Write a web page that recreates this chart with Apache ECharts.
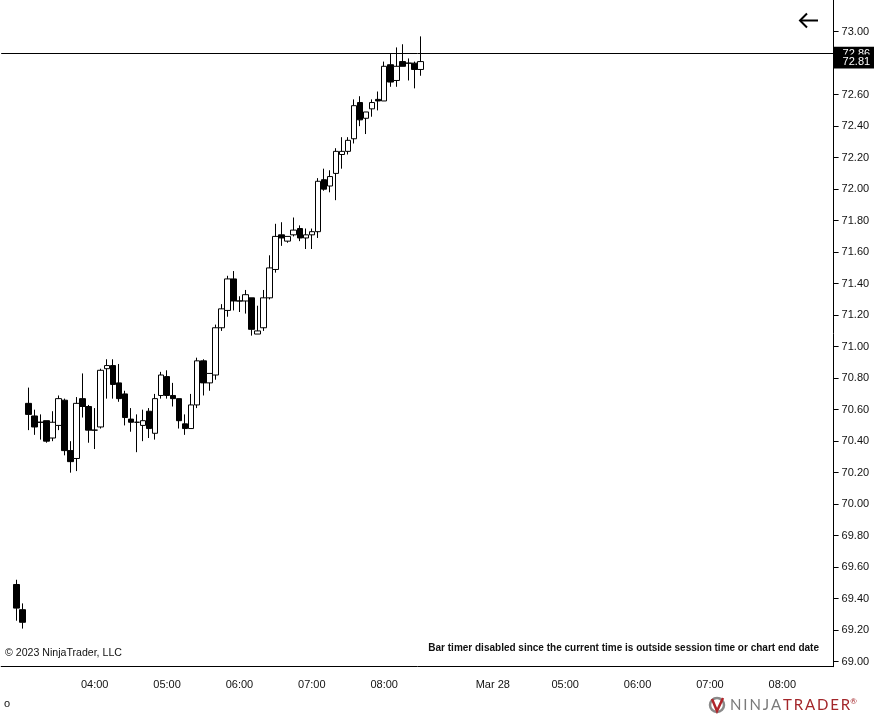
<!DOCTYPE html>
<html>
<head>
<meta charset="utf-8">
<title>Crude 5 min</title>
<script src="https://cdn.jsdelivr.net/npm/echarts@6/dist/echarts.min.js"></script>
<style>
  html, body { margin: 0; padding: 0; background: #fff; }
  #chart { width: 874px; height: 714px; }
</style>
</head>
<body>
<div id="chart"></div>
<script>
// 5 minute bars
const opens = [69.49, 69.33, 70.64, 70.56, 70.52, 70.53, 70.42, 70.50, 70.66, 70.34,
  70.29, 70.67, 70.62, 70.47, 70.49, 70.86, 70.88, 70.77, 70.70, 70.54,
  70.52, 70.50, 70.59, 70.45, 70.69, 70.81, 70.69, 70.67, 70.51, 70.48,
  70.63, 70.91, 70.77, 70.82, 71.12, 71.23, 71.43, 71.29, 71.29, 71.31,
  71.08, 71.12, 71.31, 71.49, 71.71, 71.67, 71.71, 71.75, 71.69, 71.71,
  71.73, 72.06, 72.02, 72.10, 72.22, 72.24, 72.32, 72.55, 72.45, 72.51,
  72.57, 72.56, 72.79, 72.69, 72.81, 72.80, 72.80, 72.76];
const highs = [69.52, 69.37, 70.74, 70.60, 70.57, 70.53, 70.59, 70.69, 70.67, 70.40,
  70.68, 70.83, 70.63, 70.61, 70.86, 70.92, 70.92, 70.89, 70.72, 70.61,
  70.57, 70.60, 70.61, 70.70, 70.84, 70.85, 70.77, 70.67, 70.57, 70.70,
  70.93, 70.92, 70.83, 71.14, 71.27, 71.45, 71.48, 71.32, 71.36, 71.31,
  71.26, 71.36, 71.58, 71.78, 71.79, 71.70, 71.82, 71.77, 71.75, 71.75,
  72.07, 72.13, 72.12, 72.26, 72.33, 72.33, 72.57, 72.59, 72.49, 72.57,
  72.62, 72.81, 72.86, 72.90, 72.92, 72.83, 72.81, 72.97];
const lows = [69.26, 69.21, 70.47, 70.44, 70.41, 70.39, 70.40, 70.47, 70.31, 70.20,
  70.21, 70.55, 70.39, 70.35, 70.48, 70.67, 70.67, 70.65, 70.50, 70.46,
  70.33, 70.40, 70.42, 70.41, 70.67, 70.67, 70.62, 70.48, 70.44, 70.48,
  70.61, 70.69, 70.72, 70.79, 71.10, 71.19, 71.23, 71.22, 71.21, 71.07,
  71.08, 71.10, 71.30, 71.47, 71.64, 71.66, 71.70, 71.67, 71.62, 71.62,
  71.69, 71.99, 71.98, 71.93, 72.13, 72.22, 72.29, 72.40, 72.35, 72.46,
  72.50, 72.56, 72.65, 72.65, 72.78, 72.69, 72.64, 72.72];
const closes = [69.34, 69.25, 70.57, 70.49, 70.52, 70.40, 70.52, 70.67, 70.34, 70.27,
  70.64, 70.62, 70.47, 70.47, 70.85, 70.88, 70.76, 70.67, 70.55, 70.52,
  70.52, 70.53, 70.48, 70.67, 70.82, 70.69, 70.67, 70.53, 70.48, 70.63,
  70.91, 70.77, 70.83, 71.12, 71.24, 71.43, 71.29, 71.29, 71.33, 71.11,
  71.10, 71.31, 71.50, 71.70, 71.69, 71.70, 71.74, 71.69, 71.71, 71.73,
  72.05, 72.00, 72.08, 72.24, 72.24, 72.31, 72.53, 72.44, 72.49, 72.55,
  72.56, 72.78, 72.68, 72.78, 72.78, 72.80, 72.76, 72.81];

const firstBar = "03-27 02:55";
const lineLevel = 72.86;   // horizontal line drawn on the chart
const priceTicks = [69.0, 69.2, 69.4, 69.6, 69.8, 70.0, 70.2, 70.4, 70.6, 70.8, 71.0,
  71.2, 71.4, 71.6, 71.8, 72.0, 72.2, 72.4, 72.6, 72.8, 73.0];
const timeTicks = ["03-27 04:00", "03-27 05:00", "03-27 06:00", "03-27 07:00", "03-27 08:00",
  "03-28 04:00", "03-28 05:00", "03-28 06:00", "03-28 07:00", "03-28 08:00"];
const dayLabels = { "03-28 04:00": "Mar 28" };

// session slots, 5 min apart
function slots(day, h, m, count) {
  const out = [];
  for (let i = 0; i < count; i++) {
    const t = h * 60 + m + i * 5;
    const hh = String(Math.floor(t / 60)).padStart(2, "0");
    const mm = String(t % 60).padStart(2, "0");
    out.push(day + " " + hh + ":" + mm);
  }
  return out;
}
const categories = slots("03-27", 2, 45, 81).concat(slots("03-28", 4, 0, 57));

const start = categories.indexOf(firstBar);
const bars = opens.map((o, i) => [start + i, o, closes[i], lows[i], highs[i]]);
const lastClose = closes[closes.length - 1];

const chart = echarts.init(document.getElementById("chart"));
const axisFont = "Liberation Sans";
const ink = "#111";

function priceLabel() {
  return {
    show: true,
    position: "end",
    distance: 0,
    formatter: (p) => p.value.toFixed(2),
    backgroundColor: "#000",
    color: "#fff",
    opacity: 1,
    fontFamily: axisFont,
    fontSize: 11,
    padding: [2, 4, 1, 9],
  };
}

const option = {
  animation: false,
  backgroundColor: "#fff",
  grid: { left: 1.2, right: 40.4, top: 0, bottom: 47.3 },
  xAxis: {
    type: "category",
    data: categories,
    boundaryGap: true,
    axisLine: { lineStyle: { color: "#000", width: 1 } },
    axisTick: {
      alignWithLabel: true,
      length: 5,
      lineStyle: { color: "#000" },
      interval: (i, v) => timeTicks.includes(v),
    },
    axisLabel: {
      interval: (i, v) => timeTicks.includes(v),
      formatter: (v) => dayLabels[v] || v.slice(6),
      color: ink,
      fontFamily: axisFont,
      fontSize: 11,
      margin: 13,
    },
    splitLine: { show: false },
  },
  yAxis: {
    type: "value",
    position: "right",
    min: 68.968,
    max: 73.201,
    scale: true,
    axisLine: { show: true, lineStyle: { color: "#000", width: 1 } },
    axisTick: { show: true, length: 5, lineStyle: { color: "#000" }, customValues: priceTicks },
    axisLabel: {
      customValues: priceTicks,
      formatter: (v) => v.toFixed(2),
      color: ink,
      fontFamily: axisFont,
      fontSize: 11,
      margin: 8,
    },
    splitLine: { show: false },
  },
  series: [
    {
      type: "candlestick",
      data: bars,
      dimensions: ["slot", "open", "close", "lowest", "highest"],
      encode: { x: "slot", y: ["open", "close", "lowest", "highest"] },
      barWidth: 6,
      itemStyle: {
        color: "#ffffff",
        color0: "#000000",
        borderColor: "#000000",
        borderColor0: "#000000",
        borderColorDoji: "#000000",
        borderWidth: 1,
      },
      emphasis: { disabled: true },
      markLine: {
        silent: true,
        symbol: "none",
        animation: false,
        data: [
          {
            yAxis: lineLevel,
            lineStyle: { color: "#000", width: 1, type: "solid" },
            label: priceLabel(),
          },
          {
            yAxis: lastClose,
            lineStyle: { color: "rgba(0,0,0,0)", width: 1, type: "solid" },
            label: priceLabel(),
          },
        ],
      },
    },
  ],
  graphic: [
    {
      type: "text",
      left: 5,
      top: 648,
      style: { text: "\u00a9 2023 NinjaTrader, LLC", font: '10.6px "Liberation Sans"', fill: ink },
    },
    {
      type: "text",
      x: 819,
      y: 648.5,
      style: {
        text: "Bar timer disabled since the current time is outside session time or chart end date",
        font: 'bold 10px "Liberation Sans"',
        fill: ink,
        align: "right",
        verticalAlign: "middle",
      },
    },
    {
      type: "text",
      left: 4,
      top: 698,
      style: { text: "o", font: '11px "Liberation Sans"', fill: ink },
    },
    {
      type: "polyline",
      shape: { points: [[818, 20.5], [800, 20.5]] },
      style: { stroke: "#000", lineWidth: 2 },
    },
    {
      type: "polyline",
      shape: { points: [[807, 13.5], [800, 20.5], [807, 27.5]] },
      style: { stroke: "#000", lineWidth: 2, fill: null },
    },
    {
      type: "circle",
      shape: { cx: 717, cy: 705, r: 7 },
      style: { stroke: "#8a8a8a", lineWidth: 2.5, fill: null },
    },
    {
      type: "polyline",
      shape: { points: [[712, 699], [717, 711], [723, 698]] },
      style: { stroke: "#b0262b", lineWidth: 2.5, fill: null },
    },
    {
      type: "text",
      x: 730,
      y: 705,
      style: {
        text: "{g|N\u2009I\u2009N\u2009J\u2009A\u2009}{r|T\u2009R\u2009A\u2009D\u2009E\u2009R}{s|\u00ae}",
        verticalAlign: "middle",
        rich: {
          g: { fill: "#7a7a7a", font: '15px "Lato"' },
          r: { fill: "#a3262a", font: '15px "Lato"' },
          s: { fill: "#a3262a", font: '8px "Lato"', verticalAlign: "top" },
        },
      },
    },
  ],
};

chart.setOption(option);
window.addEventListener("resize", () => chart.resize());
</script>
</body>
</html>
